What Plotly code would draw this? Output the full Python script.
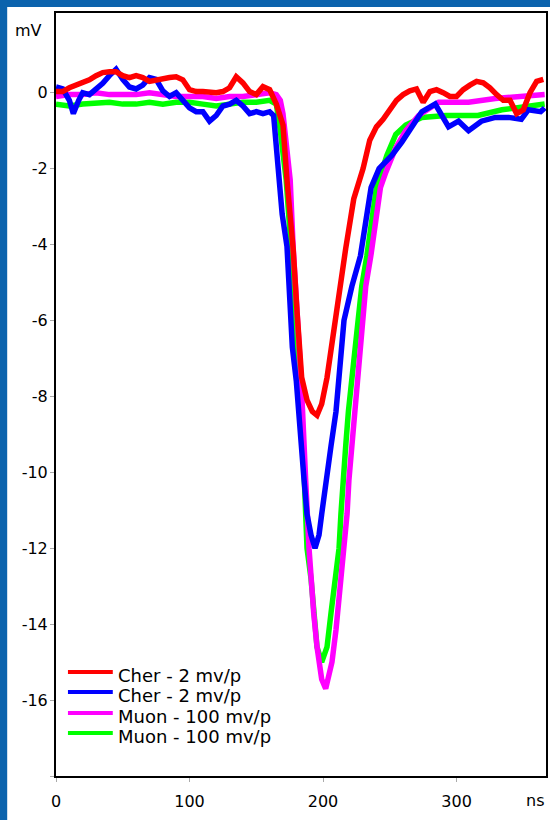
import plotly.graph_objects as go

# ---- waveform data (time in ns, amplitude in mV) ----
cher1_t = [0, 5, 10, 15, 20, 25, 30, 35, 40, 45, 50, 55, 60, 65, 70, 75, 80, 85, 90, 95,
           100, 105, 110, 115, 120, 125, 130, 135, 140, 145, 150, 155, 160, 165, 170, 173,
           177.6, 180.6, 184, 188, 192, 195.5, 199, 203, 207, 211, 217, 223, 230, 235, 240,
           245, 250, 255, 260, 265, 270, 275, 280, 285, 290, 295, 300, 305, 310, 315, 320,
           325, 330, 335, 340, 345, 350, 355, 360, 365]
cher1_v = [0.03, 0.03, 0.13, 0.2, 0.26, 0.34, 0.45, 0.53, 0.55, 0.55, 0.45, 0.4, 0.45, 0.4,
           0.3, 0.34, 0.37, 0.4, 0.42, 0.34, 0.08, 0.03, 0.03, 0.0, 0.0, 0.03, 0.13, 0.42,
           0.26, 0.03, -0.05, 0.16, 0.08, -0.3, -0.85, -2.3, -4.1, -5.8, -7.5, -8.1, -8.4,
           -8.5, -8.2, -7.5, -6.5, -5.45, -4.1, -2.8, -2.0, -1.25, -0.9, -0.7, -0.45, -0.2,
           -0.05, 0.05, 0.1, -0.25, 0.03, 0.08, 0.0, -0.1, -0.1, 0.08, 0.2, 0.3, 0.26, 0.13,
           -0.05, -0.2, -0.2, -0.55, -0.45, 0.0, 0.3, 0.35]

cher2_t = [0, 5, 10, 13, 17, 20, 25, 30, 35, 40, 45, 50, 55, 60, 65, 70, 75, 80, 85, 90, 95,
           100, 105, 110, 115, 120, 125, 130, 135, 140, 145, 150, 155, 160, 163, 165, 167,
           169.4, 173, 175.4, 177, 180, 181.5, 183.6, 185.8, 188, 191, 194, 197, 199, 203,
           206, 209.7, 212, 215.7, 221.6, 228, 232, 236, 242, 251.5, 259, 266, 274, 284,
           294, 301.5, 309, 318.6, 329, 339, 348.5, 353.7, 363, 366]
cher2_v = [0.15, 0.1, -0.2, -0.55, -0.2, 0.0, -0.05, 0.1, 0.25, 0.45, 0.62, 0.35, 0.15, 0.1,
           0.2, 0.4, 0.35, 0.05, -0.1, 0.0, -0.2, -0.4, -0.5, -0.5, -0.75, -0.6, -0.35, -0.3,
           -0.2, -0.35, -0.55, -0.5, -0.55, -0.5, -0.6, -1.4, -2.3, -3.2, -4.05, -5.8, -6.7,
           -7.6, -8.4, -9.3, -10.2, -11.1, -11.65, -12.0, -11.65, -11.1, -10.2, -9.3, -8.4,
           -7.55, -6.0, -5.1, -4.3, -3.4, -2.5, -2.0, -1.65, -1.3, -0.9, -0.5, -0.3, -0.9,
           -0.75, -1.0, -0.75, -0.65, -0.65, -0.7, -0.45, -0.5, -0.4]

muon1_t = [0, 10, 20, 30, 40, 50, 60, 70, 80, 90, 100, 110, 120, 130, 140, 150, 160, 165,
           168, 170, 173, 175.4, 177.6, 180.6, 183.6, 187, 189.5, 193, 195.5, 199, 202,
           206.7, 209.7, 213.4, 215.7, 218, 219.4, 221.6, 225.4, 229, 232, 235.8, 239.5,
           243, 247, 254.5, 262, 271.6, 286.6, 309, 329, 349, 366]
muon1_v = [-0.1, -0.05, -0.05, 0.0, -0.05, -0.05, -0.05, 0.0, -0.05, -0.1, -0.1, -0.1,
           -0.15, -0.1, -0.1, -0.05, 0.0, -0.05, -0.2, -0.55, -1.4, -2.3, -4.05, -5.8,
           -7.55, -10.2, -12.0, -13.7, -14.6, -15.45, -15.7, -15.0, -14.15, -12.8, -12.0,
           -11.1, -10.2, -9.3, -7.55, -6.0, -5.1, -4.3, -3.4, -2.5, -2.1, -1.45, -1.0, -0.6,
           -0.25, -0.25, -0.15, -0.1, -0.05]

muon2_t = [0, 10, 20, 30, 40, 50, 60, 70, 80, 90, 100, 110, 120, 130, 140, 150, 160, 165,
           168, 172.4, 176, 178, 182, 183.6, 186, 188, 191, 193, 195.5, 199, 203, 206,
           209.7, 212, 213.4, 215.7, 217, 219, 221.6, 225.4, 229, 232.8, 236.6, 240, 247.8,
           254.5, 262, 274, 292, 316, 334, 353.7, 366]
muon2_v = [-0.3, -0.35, -0.3, -0.28, -0.25, -0.3, -0.3, -0.25, -0.3, -0.25, -0.25, -0.3,
           -0.35, -0.3, -0.25, -0.25, -0.2, -0.3, -1.0, -2.3, -4.05, -5.8, -7.55, -8.4,
           -10.2, -12.0, -12.8, -13.7, -14.6, -15.0, -14.6, -13.7, -12.8, -12.0, -11.1,
           -10.2, -9.3, -8.4, -7.55, -6.0, -5.1, -4.3, -3.4, -2.5, -1.65, -1.1, -0.85,
           -0.65, -0.6, -0.6, -0.45, -0.35, -0.3]

series_names = ["Cher - 2 mv/p", "Cher - 2 mv/p", "Muon - 100 mv/p", "Muon - 100 mv/p"]
series_colors = ["#ff0000", "#0000ff", "#ff00ff", "#00ff00"]

x_ticks = [0, 100, 200, 300]
y_ticks = [-18, -16, -14, -12, -10, -8, -6, -4, -2, 0]
y_ticktext = ["", "-16", "-14", "-12", "-10", "-8", "-6", "-4", "-2", "0"]

FONT = "DejaVu Sans"

series = [(cher1_t, cher1_v), (cher2_t, cher2_v), (muon1_t, muon1_v), (muon2_t, muon2_v)]

fig = go.Figure()
# draw back-to-front: green, magenta, blue, red
for i in [3, 2, 1, 0]:
    t, v = series[i]
    fig.add_trace(go.Scatter(
        x=t, y=v, mode="lines", name=series_names[i],
        line=dict(color=series_colors[i], width=5.5),
        showlegend=False, hoverinfo="skip",
    ))

# white panel over the blue page frame
shapes = [dict(type="rect", xref="paper", yref="paper",
               x0=-0.0996, x1=1.02, y0=-0.08, y1=1.0079,
               fillcolor="white", line=dict(width=0), layer="below")]

annotations = [
    dict(text="mV", xref="paper", yref="paper", x=-0.0555, y=0.9765,
         xanchor="center", yanchor="middle",
         showarrow=False, font=dict(family=FONT, size=16, color="black")),
    dict(text="ns", xref="paper", yref="paper", x=0.9775, y=-0.0315,
         xanchor="center", yanchor="middle",
         showarrow=False, font=dict(family=FONT, size=16, color="black")),
]

# legend block in the lower-left corner of the plot
leg_y = [0.1363, 0.1101, 0.0826, 0.0564]
for name, col, yy in zip(series_names, series_colors, leg_y):
    shapes.append(dict(type="line", xref="paper", yref="paper",
                       x0=0.0244, x1=0.1159, y0=yy, y1=yy,
                       line=dict(color=col, width=4), layer="above"))
    annotations.append(dict(text=name, xref="paper", yref="paper",
                            x=0.122, y=yy - 0.004, xanchor="left", yanchor="middle",
                            showarrow=False,
                            font=dict(family=FONT, size=18, color="black")))

fig.update_layout(
    width=550, height=820,
    margin=dict(l=56, r=2, t=13, b=44, pad=0),
    paper_bgcolor="#0b63ad",
    plot_bgcolor="white",
    showlegend=False,
    shapes=shapes,
    annotations=annotations,
    font=dict(family=FONT, size=16, color="black"),
    xaxis=dict(range=[0, 367], tickvals=x_ticks, showgrid=False, zeroline=False,
               showline=True, mirror=True, linecolor="black", linewidth=2,
               ticks="outside", ticklen=4, tickcolor="#aaaaaa", tickwidth=1,
               ticklabelstandoff=6,
               tickfont=dict(family=FONT, size=16, color="black")),
    yaxis=dict(range=[-18, 2.1], tickvals=y_ticks, ticktext=y_ticktext,
               showgrid=False, zeroline=False,
               showline=True, mirror=True, linecolor="black", linewidth=2,
               ticks="outside", ticklen=4, tickcolor="#aaaaaa", tickwidth=1,
               ticklabelstandoff=-1,
               tickfont=dict(family=FONT, size=16, color="black")),
)

fig.write_html("out.html")
